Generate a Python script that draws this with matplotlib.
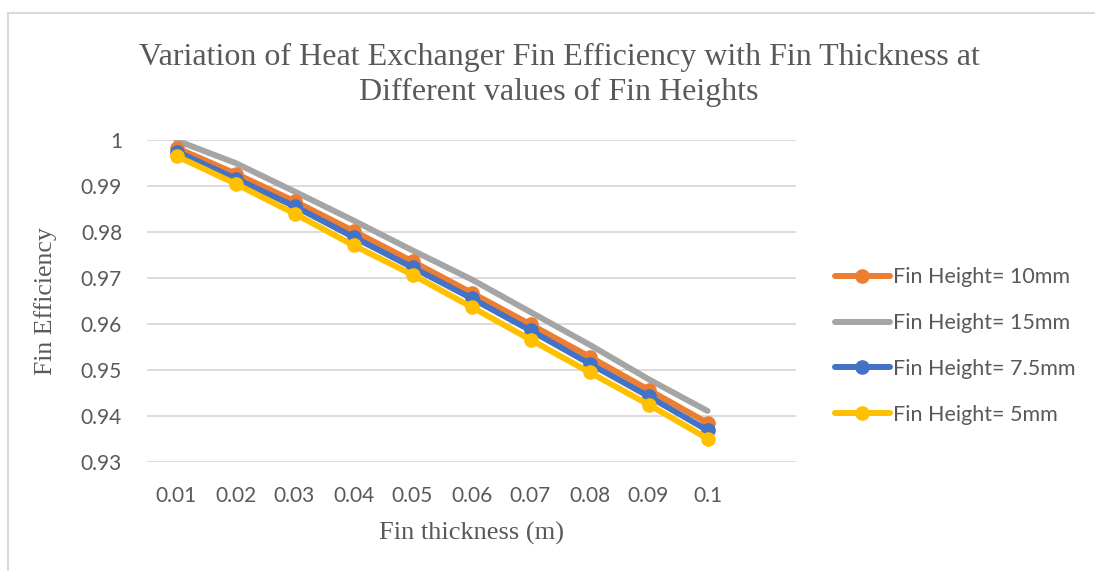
import matplotlib
matplotlib.use("Agg")
import matplotlib.pyplot as plt
from matplotlib.patches import Rectangle

# Fin thickness categories (m) and efficiency for each fin height
thickness = ["0.01", "0.02", "0.03", "0.04", "0.05", "0.06", "0.07", "0.08", "0.09", "0.1"]
eff_10mm = [0.9983, 0.9927, 0.9867, 0.9802, 0.9736, 0.9668, 0.9599, 0.9529, 0.9457, 0.9385]
eff_15mm = [0.9999, 0.9950, 0.9888, 0.9825, 0.9760, 0.9697, 0.9626, 0.9555, 0.9480, 0.9411]
eff_7_5mm = [0.9975, 0.9916, 0.9856, 0.9789, 0.9723, 0.9656, 0.9586, 0.9514, 0.9443, 0.9369]
eff_5mm = [0.9965, 0.9905, 0.9840, 0.9771, 0.9707, 0.9637, 0.9566, 0.9495, 0.9425, 0.9351]
yticks = [0.93, 0.94, 0.95, 0.96, 0.97, 0.98, 0.99, 1.0]
ytick_labels = ["0.93", "0.94", "0.95", "0.96", "0.97", "0.98", "0.99", "1"]

ORANGE = "#ED7D31"
GRAY = "#A5A5A5"
BLUE = "#4472C4"
YELLOW = "#FFC000"
TEXT = "#595959"
GRID = "#D9D9D9"
SERIF = "Liberation Serif"
SANS = "Lato"

fig = plt.figure(figsize=(10.95, 5.71), dpi=100)
fig.patch.set_facecolor("white")

# chart-area border
fig.patches.append(Rectangle((8 / 1095, -0.1), 1.2, 1 - 13 / 571 + 0.1,
                             transform=fig.transFigure, fill=False,
                             edgecolor=GRID, linewidth=1.5))

ax = fig.add_axes([147 / 1095, 1 - 462 / 571, 649 / 1095, 322 / 571])
x = list(range(len(thickness)))

lw = 4.3
ms = 9.5
ax.plot(x, eff_10mm, color=ORANGE, lw=lw, marker="o", ms=ms, label="Fin Height= 10mm",
        solid_capstyle="round", zorder=3)
ax.plot(x, eff_15mm, color=GRAY, lw=lw, label="Fin Height= 15mm",
        solid_capstyle="round", zorder=2)
ax.plot(x, eff_7_5mm, color=BLUE, lw=lw, marker="o", ms=ms, label="Fin Height= 7.5mm",
        solid_capstyle="round", zorder=4)
ax.plot(x, eff_5mm, color=YELLOW, lw=lw, marker="o", ms=ms, label="Fin Height= 5mm",
        solid_capstyle="round", zorder=5)

ax.set_xlim(-0.5, 10.5)
ax.set_ylim(0.93, 1.0)
ax.set_xticks(x)
ax.set_xticklabels(thickness, fontfamily=SANS, fontsize=15, color=TEXT)
ax.set_yticks(yticks)
ax.set_yticklabels(ytick_labels, fontfamily=SANS, fontsize=15, color=TEXT)
ax.tick_params(axis="both", length=0)
ax.tick_params(axis="y", pad=18)
ax.tick_params(axis="x", pad=17)
ax.grid(axis="y", color=GRID, lw=1.3)
ax.set_axisbelow(True)
for s in ax.spines.values():
    s.set_visible(False)

ax.set_ylabel("Fin Efficiency", fontfamily=SERIF, fontsize=18.5, color=TEXT, labelpad=17)
ax.set_xlabel("Fin thickness (m)", fontfamily=SERIF, fontsize=19, color=TEXT, labelpad=12)

fig.text(559 / 1095, 1 - 75 / 571,
         "Variation of Heat Exchanger Fin Efficiency with Fin Thickness at\nDifferent values of Fin Heights",
         ha="center", va="center", fontfamily=SERIF, fontsize=23, color=TEXT, linespacing=1.27)

leg = ax.legend(loc="center left", bbox_to_anchor=(835 / 1095, 1 - 346 / 571),
                bbox_transform=fig.transFigure, frameon=False,
                prop={"family": SANS, "size": 15.5}, labelcolor=TEXT,
                handlelength=2.55, handletextpad=0.15, labelspacing=1.2,
                borderpad=0, borderaxespad=0)

fig.savefig("out.png", dpi=100, facecolor="white")
